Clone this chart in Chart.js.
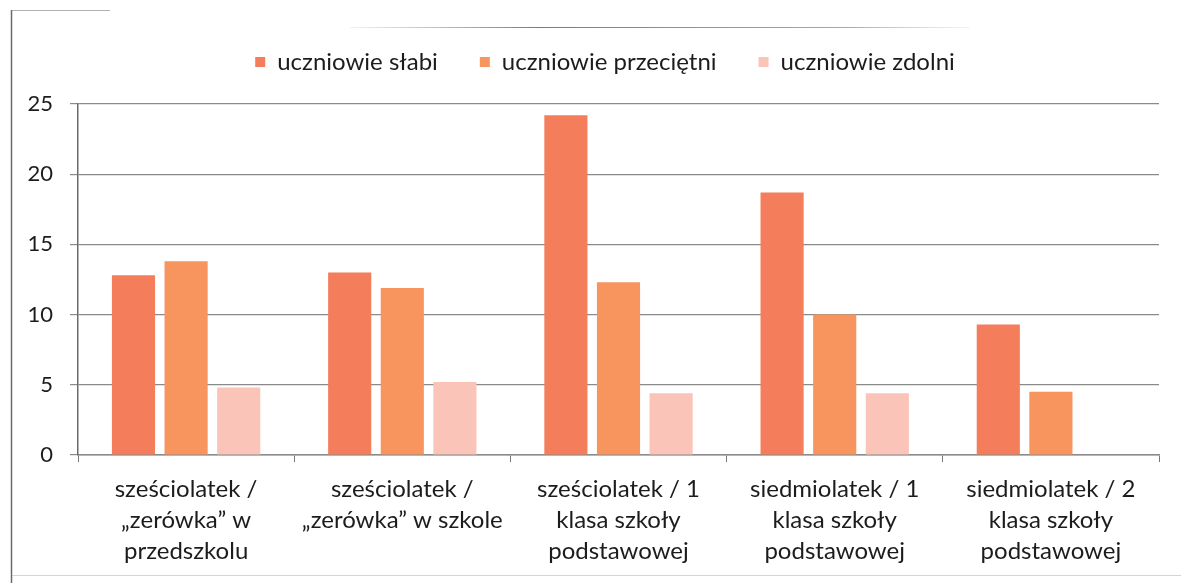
<!DOCTYPE html>
<html>
<head>
<meta charset="utf-8">
<script src="https://cdn.jsdelivr.net/npm/chart.js@4.4.1/dist/chart.umd.min.js"></script>
<style>
  html, body { margin: 0; padding: 0; background: #fff; }
  #wrap { width: 1181px; height: 583px; position: relative; }
</style>
</head>
<body>
<div id="wrap"><canvas id="c" width="1181" height="583"></canvas></div>
<script>
const categories = [
  ["sześciolatek /", "„zerówka” w", "przedszkolu"],
  ["sześciolatek /", "„zerówka” w szkole"],
  ["sześciolatek / 1", "klasa szkoły", "podstawowej"],
  ["siedmiolatek / 1", "klasa szkoły", "podstawowej"],
  ["siedmiolatek / 2", "klasa szkoły", "podstawowej"]
];
const seriesNames = ["uczniowie słabi", "uczniowie przeciętni", "uczniowie zdolni"];
const slabi = [12.8, 13.0, 24.2, 18.7, 9.3];
const przecietni = [13.8, 11.9, 12.3, 10.0, 4.5];
const zdolni = [4.8, 5.2, 4.4, 4.4, null];
const yTicks = [0, 5, 10, 15, 20, 25];

const colors = ["#F47D5C", "#F8945E", "#FBC4B9"];
const FONT = "Lato, 'Open Sans', sans-serif";
const TEXT = "#1c1c1c";

const frame = {
  id: 'frame',
  beforeDraw(chart) {
    const ctx = chart.ctx;
    ctx.save();
    ctx.fillStyle = '#fff';
    ctx.fillRect(0, 0, chart.width, chart.height);
    ctx.strokeStyle = '#6a6a6a';
    ctx.lineWidth = 1.5;
    ctx.beginPath();
    ctx.moveTo(11.5, 10); ctx.lineTo(11.5, 583);
    ctx.stroke();
    ctx.strokeStyle = '#b0b0b0';
    ctx.lineWidth = 1;
    ctx.beginPath();
    ctx.moveTo(12, 10.5); ctx.lineTo(110, 10.5);
    ctx.stroke();
    const g = ctx.createLinearGradient(350, 0, 970, 0);
    g.addColorStop(0, 'rgba(120,120,120,0.1)');
    g.addColorStop(0.3, 'rgba(90,90,90,0.8)');
    g.addColorStop(0.8, 'rgba(110,110,110,0.6)');
    g.addColorStop(1, 'rgba(150,150,150,0.1)');
    ctx.strokeStyle = g;
    ctx.beginPath();
    ctx.moveTo(350, 27.5); ctx.lineTo(970, 27.5);
    ctx.stroke();
    ctx.strokeStyle = 'rgba(170,170,170,0.5)';
    ctx.beginPath();
    ctx.moveTo(12, 575.5); ctx.lineTo(1181, 575.5);
    ctx.stroke();
    ctx.restore();
  }
};

const legendSpace = {
  id: 'legendSpace',
  beforeInit(chart) {
    const origFit = chart.legend.fit;
    chart.legend.fit = function () {
      origFit.bind(this)();
      this.height = 96;
    };
  },
  afterLayout(chart) {
    chart.legend.left = 51;
  }
};

new Chart(document.getElementById('c'), {
  type: 'bar',
  data: {
    labels: categories,
    datasets: [
      { label: seriesNames[0], data: slabi, backgroundColor: colors[0] },
      { label: seriesNames[1], data: przecietni, backgroundColor: colors[1] },
      { label: seriesNames[2], data: zdolni, backgroundColor: colors[2] }
    ]
  },
  options: {
    responsive: false,
    animation: false,
    devicePixelRatio: 1,
    layout: { padding: { top: 8, right: 22, bottom: 0, left: 0 } },
    datasets: { bar: { categoryPercentage: 0.73, barPercentage: 0.82 } },
    plugins: {
      legend: {
        position: 'top',
        labels: {
          boxWidth: 10, boxHeight: 10, padding: 42,
          color: TEXT,
          font: { family: FONT, size: 24, lineHeight: 1.0 }
        }
      },
      tooltip: { enabled: false }
    },
    scales: {
      x: {
        grid: { display: true, drawOnChartArea: false, drawTicks: true, tickLength: 7, offset: true, color: '#7a7a7a' },
        border: { color: '#8a8a8a', width: 1.5 },
        ticks: { color: TEXT, padding: 12, maxRotation: 0, autoSkip: false, font: { family: FONT, size: 24, lineHeight: 1.28 } },
        afterFit(scale) { scale.height = 128; }
      },
      y: {
        min: 0, max: 25,
        afterBuildTicks(scale) { scale.ticks = yTicks.map(v => ({ value: v })); },
        grid: { color: '#8a8a8a', lineWidth: 1.2, tickLength: 8 },
        border: { color: '#6a6a6a', width: 1.5 },
        ticks: { color: TEXT, padding: 17, font: { family: FONT, size: 22 } },
        afterFit(scale) { scale.width = 78; }
      }
    }
  },
  plugins: [frame, legendSpace]
});
</script>
</body>
</html>
